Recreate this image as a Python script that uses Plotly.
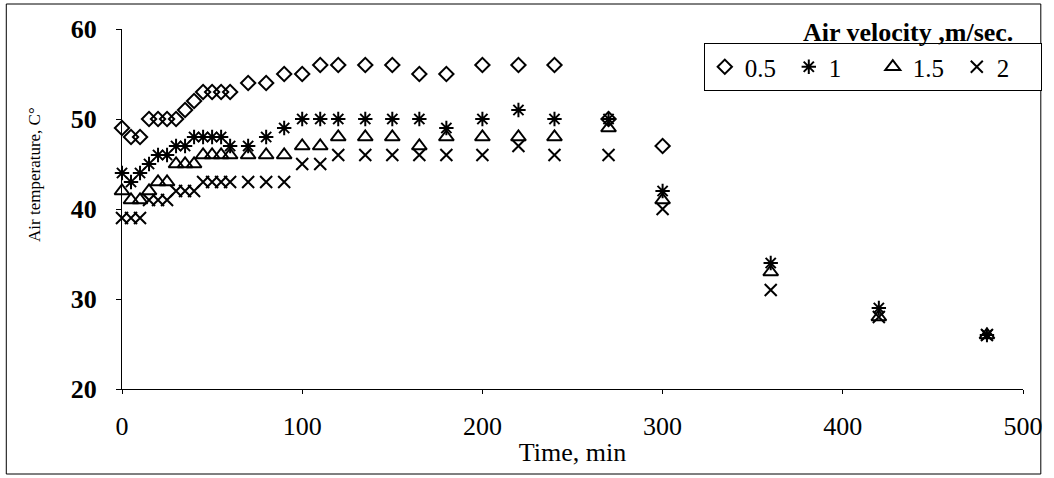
import plotly.graph_objects as go

time_min = [0, 5, 10, 15, 20, 25, 30, 35, 40, 45, 50, 55, 60, 70, 80, 90, 100,
            110, 120, 135, 150, 165, 180, 200, 220, 240, 270, 300, 360, 420, 480]

# air velocity 0.5 m/s (measured up to 300 min)
temp_v05 = [49, 48, 48, 50, 50, 50, 50, 51, 52, 53, 53, 53, 53, 54, 54, 55, 55,
            56, 56, 56, 56, 55, 55, 56, 56, 56, 50, 47]
# air velocity 1 m/s
temp_v1 = [44, 43, 44, 45, 46, 46, 47, 47, 48, 48, 48, 48, 47, 47, 48, 49, 50,
           50, 50, 50, 50, 50, 49, 50, 51, 50, 50, 42, 34, 29, 26]
# air velocity 1.5 m/s
temp_v15 = [42, 41, 41, 42, 43, 43, 45, 45, 45, 46, 46, 46, 46, 46, 46, 46, 47,
            47, 48, 48, 48, 47, 48, 48, 48, 48, 49, 41, 33, 28, 26]
# air velocity 2 m/s
temp_v2 = [39, 39, 39, 41, 41, 41, 42, 42, 42, 43, 43, 43, 43, 43, 43, 43, 45,
           45, 46, 46, 46, 46, 46, 46, 47, 46, 46, 40, 31, 28, 26]

series_names = ["0.5", "1", "1.5", "2"]
x_ticks = [0, 100, 200, 300, 400, 500]
y_ticks = [20, 30, 40, 50, 60]

FONT = "Liberation Serif"

series = [
    (series_names[0], temp_v05, "diamond-open", 11),
    (series_names[1], temp_v1, "asterisk-open", 12),
    (series_names[2], temp_v15, "triangle-up-open", 13),
    (series_names[3], temp_v2, "x-thin-open", 12),
]

fig = go.Figure()
for name, vals, sym, size in series:
    fig.add_trace(go.Scatter(
        x=time_min[:len(vals)], y=vals, mode="markers", name=name,
        cliponaxis=False,
        marker=dict(symbol=sym, size=size, color="black",
                    line=dict(color="black", width=2)),
    ))

fig.update_layout(
    width=1054, height=478,
    margin=dict(l=122, r=21, t=29, b=89),
    paper_bgcolor="white", plot_bgcolor="white",
    font=dict(family=FONT, color="black", size=24),
    showlegend=True,
    legend=dict(
        orientation="h", xanchor="right", yanchor="top",
        x=(1052 - 122) / 911, y=(389 - 43) / 360,
        bordercolor="black", borderwidth=1, bgcolor="white",
        font=dict(family=FONT, size=25, color="black"),
        entrywidth=39, entrywidthmode="pixels",
        itemsizing="trace", tracegroupgap=0,
    ),
    xaxis=dict(
        range=[0, 500], tickvals=x_ticks, ticktext=[str(v) for v in x_ticks],
        showgrid=False, zeroline=False, showline=True, linecolor="black",
        linewidth=1, ticks="outside", ticklen=4, tickcolor="black",
        ticklabelstandoff=10,
        tickfont=dict(family=FONT, size=26),
        title=dict(text="Time, min", font=dict(family=FONT, size=26), standoff=2),
    ),
    yaxis=dict(
        range=[20, 60], tickvals=y_ticks, ticktext=[str(v) for v in y_ticks],
        showgrid=False, zeroline=False, showline=True, linecolor="black",
        linewidth=1, ticks="outside", ticklen=5, tickcolor="black",
        ticklabelstandoff=14,
        tickfont=dict(family=FONT, size=26, weight="bold"),
    ),
    annotations=[
        dict(text="Air temperature, C°", textangle=-90, xref="paper", yref="paper",
             x=(33 - 122) / 911, y=(389 - 174) / 360, xanchor="center",
             yanchor="middle", showarrow=False,
             font=dict(family=FONT, size=17, color="black")),
        dict(text="<b>Air velocity ,m/sec.</b>", xref="paper", yref="paper",
             x=(917 - 122) / 911, y=(389 - 33) / 360, xanchor="center",
             yanchor="middle", showarrow=False,
             font=dict(family=FONT, size=26, color="black")),
    ],
    shapes=[
        dict(type="rect", xref="paper", yref="paper",
             x0=(5 - 122) / 911, x1=(1051 - 122) / 911,
             y0=(389 - 474) / 360, y1=(389 - 4) / 360,
             line=dict(color="black", width=1), fillcolor="rgba(0,0,0,0)",
             layer="below"),
    ],
)

fig.write_html("out.html")
